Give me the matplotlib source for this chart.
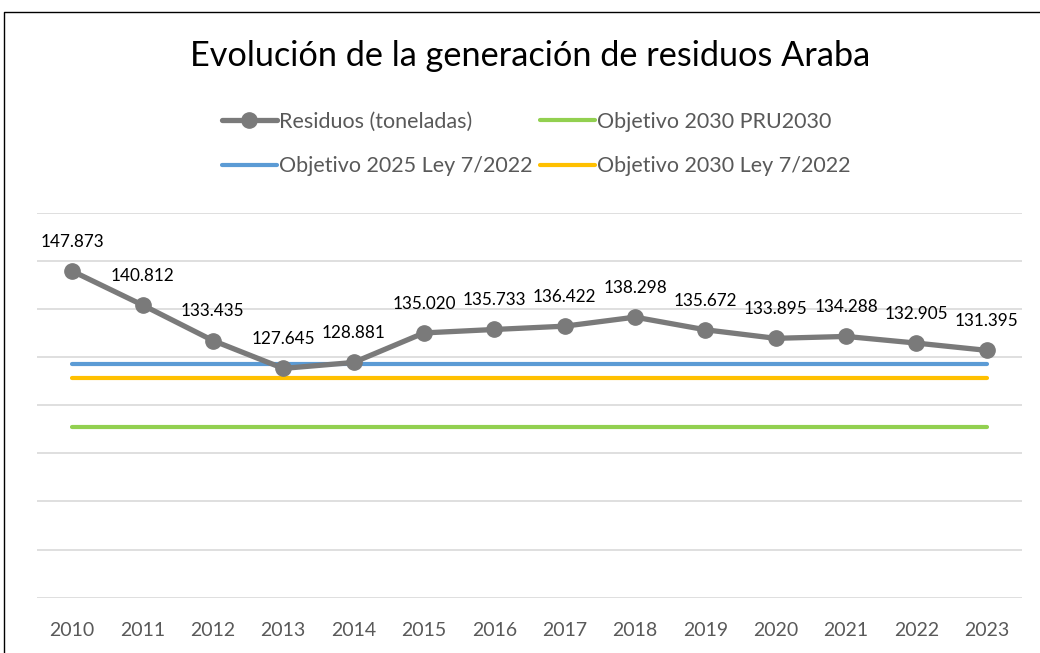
import matplotlib
matplotlib.use("Agg")
import matplotlib.pyplot as plt
from matplotlib.lines import Line2D

years = ["2010", "2011", "2012", "2013", "2014", "2015", "2016",
         "2017", "2018", "2019", "2020", "2021", "2022", "2023"]
residuos = [147.873, 140.812, 133.435, 127.645, 128.881, 135.020, 135.733,
            136.422, 138.298, 135.672, 133.895, 134.288, 132.905, 131.395]
obj_pru2030 = [115.4] * len(years)
obj_2025_ley = [128.65] * len(years)
obj_2030_ley = [125.69] * len(years)
labels = ["147.873", "140.812", "133.435", "127.645", "128.881", "135.020", "135.733",
          "136.422", "138.298", "135.672", "133.895", "134.288", "132.905", "131.395"]

plt.rcParams['font.family'] = ['Lato', 'DejaVu Sans']

W, H = 1040, 653
fig = plt.figure(figsize=(W / 100, H / 100), dpi=100)
fig.patch.set_facecolor("white")

ax = fig.add_axes([37 / W, 1 - 597.7 / H, (1022 - 37) / W, (597.7 - 212.7) / H])
x = list(range(len(years)))

l_res, = ax.plot(x, residuos, color="#7a7a7a", lw=3.8, marker="o", markersize=11,
                 solid_capstyle="round", zorder=5, label="Residuos (toneladas)")
l_2025, = ax.plot(x, obj_2025_ley, color="#5b9bd5", lw=3.0, solid_capstyle="round",
                  zorder=4, label="Objetivo 2025 Ley 7/2022")
l_pru, = ax.plot(x, obj_pru2030, color="#92d050", lw=3.0, solid_capstyle="round",
                 zorder=3, label="Objetivo 2030 PRU2030")
l_2030, = ax.plot(x, obj_2030_ley, color="#ffc000", lw=3.0, solid_capstyle="round",
                  zorder=3, label="Objetivo 2030 Ley 7/2022")

for xi, yi, lab in zip(x, residuos, labels):
    ax.annotate(lab, (xi, yi), xytext=(0, 21), textcoords="offset points",
                ha="center", va="center", fontsize=12.3, color="black", zorder=6)

ax.set_xlim(-0.5, len(years) - 0.5)
ax.set_ylim(80, 160)
ax.set_yticks(range(80, 161, 10))
ax.yaxis.grid(True, color="#d9d9d9", lw=1.2)
ax.set_axisbelow(True)
for s in ax.spines.values():
    s.set_visible(False)
ax.tick_params(axis="y", left=False, labelleft=False)
ax.tick_params(axis="x", bottom=False, pad=14, labelsize=14, labelcolor="#595959")
ax.set_xticks(x)
ax.set_xticklabels(years)

fig.text(530 / W, 1 - 56 / H, "Evolución de la generación de residuos Araba",
         ha="center", va="center", fontsize=24.7, color="black")

leg = fig.legend(handles=[l_res, l_2025, l_pru, l_2030], ncol=2,
                 loc="center", bbox_to_anchor=(536 / W, 1 - 144 / H),
                 frameon=False, fontsize=15.5, labelcolor="#595959",
                 handlelength=2.55, handletextpad=0.1, columnspacing=0.35,
                 labelspacing=1.15)

fig.add_artist(Line2D([3.5 / W, 3.5 / W, 1.0], [0.0, 1 - 12 / H, 1 - 12 / H],
                      transform=fig.transFigure, color="black", lw=1.0))

fig.savefig("out.png", dpi=100, facecolor="white")
